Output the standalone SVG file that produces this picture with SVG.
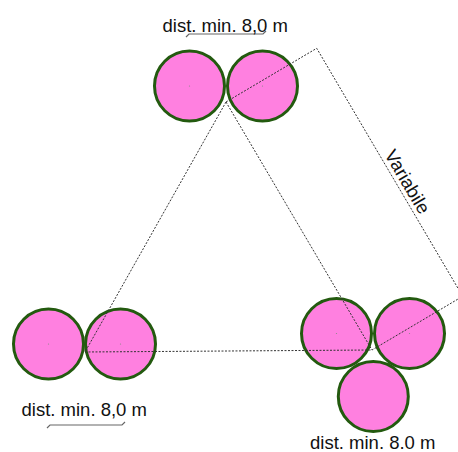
<svg xmlns="http://www.w3.org/2000/svg" width="458" height="452" viewBox="0 0 458 452">
<style>
.c{fill:#ff80e0;stroke:#235a0f;stroke-width:3}
.d{fill:#888}
.l{fill:none;stroke:#333;stroke-width:1;stroke-dasharray:2 1.5}
.dim{fill:none;stroke:#666;stroke-width:1.2}
.t{font-family:"Liberation Sans",Arial,sans-serif;font-size:18.5px;fill:#111}
</style>
<rect width="458" height="452" fill="#fff"/>
<g id="top-pair">
<circle class="c" cx="189.5" cy="86" r="35"/>
<circle class="c" cx="262.5" cy="86" r="35"/>
<circle class="d" cx="189.5" cy="86" r="0.6"/>
<circle class="d" cx="262.5" cy="86" r="0.6"/>
<path class="dim" d="M186,37 L189,34 L263,34 L266,31"/>
<text class="t" x="162.5" y="32">dist. min. 8,0 m</text>
</g>
<g id="left-pair">
<circle class="c" cx="48.5" cy="344" r="35"/>
<circle class="c" cx="120.5" cy="344" r="35"/>
<circle class="d" cx="48.5" cy="344" r="0.6"/>
<circle class="d" cx="120.5" cy="344" r="0.6"/>
<path class="dim" d="M47,428 L50,425 L122,425 L125,422"/>
<text class="t" x="21.5" y="416">dist. min. 8,0 m</text>
</g>
<g id="right-group">
<circle class="c" cx="336.5" cy="333.5" r="35"/>
<circle class="c" cx="409.5" cy="333.5" r="35"/>
<circle class="c" cx="373.3" cy="396.5" r="35"/>
<circle class="d" cx="336.5" cy="333.5" r="0.6"/>
<circle class="d" cx="409.5" cy="333.5" r="0.6"/>
<text class="t" x="310" y="448.5">dist. min. 8.0 m</text>
</g>
<g id="connectors">
<path class="l" d="M226,102 L85,352"/>
<path class="l" d="M85,352 L372,350"/>
<path class="l" d="M226,102 L372,350"/>
<path class="l" d="M226,102 L316.7,48.3 L462.7,296.3 L372,350"/>
</g>
<g id="dimension-variabile">
<text class="t" x="402" y="185" text-anchor="middle" transform="rotate(59.5 402 185)">Variabile</text>
</g>
</svg>
